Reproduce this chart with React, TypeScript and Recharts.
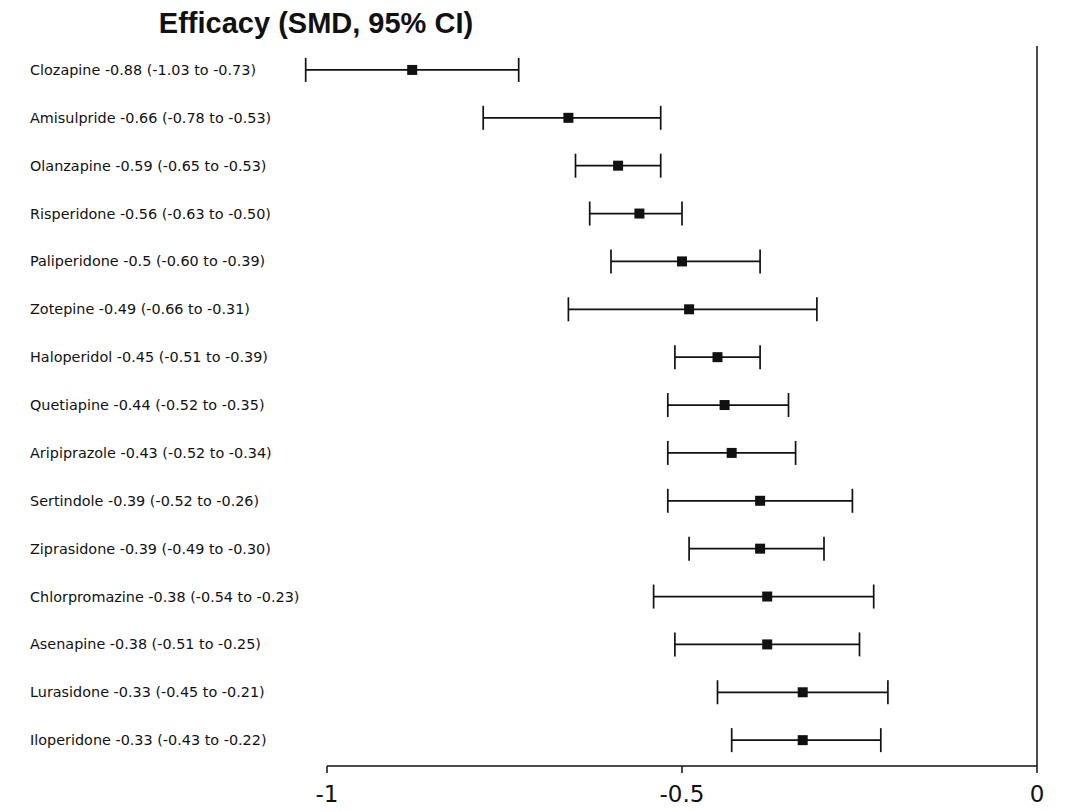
import { ScatterChart, Scatter, XAxis, YAxis, ErrorBar, ReferenceLine } from "recharts"

const drugs = [
  "Clozapine", "Amisulpride", "Olanzapine", "Risperidone", "Paliperidone",
  "Zotepine", "Haloperidol", "Quetiapine", "Aripiprazole", "Sertindole",
  "Ziprasidone", "Chlorpromazine", "Asenapine", "Lurasidone", "Iloperidone",
]
const smd = [-0.88, -0.66, -0.59, -0.56, -0.5, -0.49, -0.45, -0.44, -0.43, -0.39, -0.39, -0.38, -0.38, -0.33, -0.33]
const lower = [-1.03, -0.78, -0.65, -0.63, -0.60, -0.66, -0.51, -0.52, -0.52, -0.52, -0.49, -0.54, -0.51, -0.45, -0.43]
const upper = [-0.73, -0.53, -0.53, -0.50, -0.39, -0.31, -0.39, -0.35, -0.34, -0.26, -0.30, -0.23, -0.25, -0.21, -0.22]
const xTicks = [-1, -0.5, 0]

const fmt = (v: number) => v.toFixed(2)

const data = drugs.map((name, i) => ({
  row: i,
  smd: smd[i],
  err: [smd[i] - lower[i], upper[i] - smd[i]],
  label: `${name} ${smd[i] === -0.5 ? "-0.5" : fmt(smd[i])} (${fmt(lower[i])} to ${fmt(upper[i])})`,
}))

const font = "'DejaVu Sans', Verdana, sans-serif"

const rowLabel = (props: any) => {
  const d = data[props.payload?.value]
  if (!d) return <g />
  return (
    <text x={30} y={props.y} dy={5} textAnchor="start" fontSize={14.4} fontFamily={font} fill="#111">
      {d.label}
    </text>
  )
}

const xTick = (props: any) => (
  <text x={props.x} y={props.y} dy={27} textAnchor="middle" fontSize={23} fontFamily={font} fill="#111">
    {String(props.payload.value)}
  </text>
)

function Square({ cx, cy }: any) {
  return <rect x={cx - 5} y={cy - 5} width={10} height={10} fill="#111" />
}

export default function App() {
  return (
    <div style={{ position: "absolute", left: 0, top: 0, width: 1080, height: 811, background: "#fff" }}>
      <div
        style={{
          position: "absolute",
          left: 0,
          width: 632,
          top: 7,
          textAlign: "center",
          fontFamily: "'Liberation Sans', Arial, sans-serif",
          fontWeight: "bold",
          fontSize: 29,
          color: "#111",
        }}
      >
        Efficacy (SMD, 95% CI)
      </div>
      <ScatterChart width={1080} height={811} margin={{ top: 46, right: 43, bottom: 0, left: 29 }}>
        <XAxis
          type="number"
          dataKey="smd"
          domain={[-1.4183, 0]}
          allowDataOverflow
          ticks={xTicks}
          axisLine={false}
          tickLine={{ stroke: "#111", strokeWidth: 1.5 }}
          tickSize={7}
          tick={xTick}
          height={45}
        />
        <YAxis
          type="number"
          dataKey="row"
          domain={[-0.5, 14.54]}
          reversed
          allowDataOverflow
          ticks={data.map((d) => d.row)}
          interval={0}
          width={1}
          axisLine={false}
          tickLine={false}
          tick={rowLabel}
        />
        <ReferenceLine x={0} stroke="#111" strokeWidth={1.5} />
        <ReferenceLine
          segment={[{ x: -1, y: 14.54 }, { x: 0, y: 14.54 }]}
          stroke="#111"
          strokeWidth={1.5}
        />
        <Scatter data={data} shape={<Square />} isAnimationActive={false}>
          <ErrorBar dataKey="err" direction="x" width={12} stroke="#111" strokeWidth={1.7} />
        </Scatter>
      </ScatterChart>
    </div>
  )
}
